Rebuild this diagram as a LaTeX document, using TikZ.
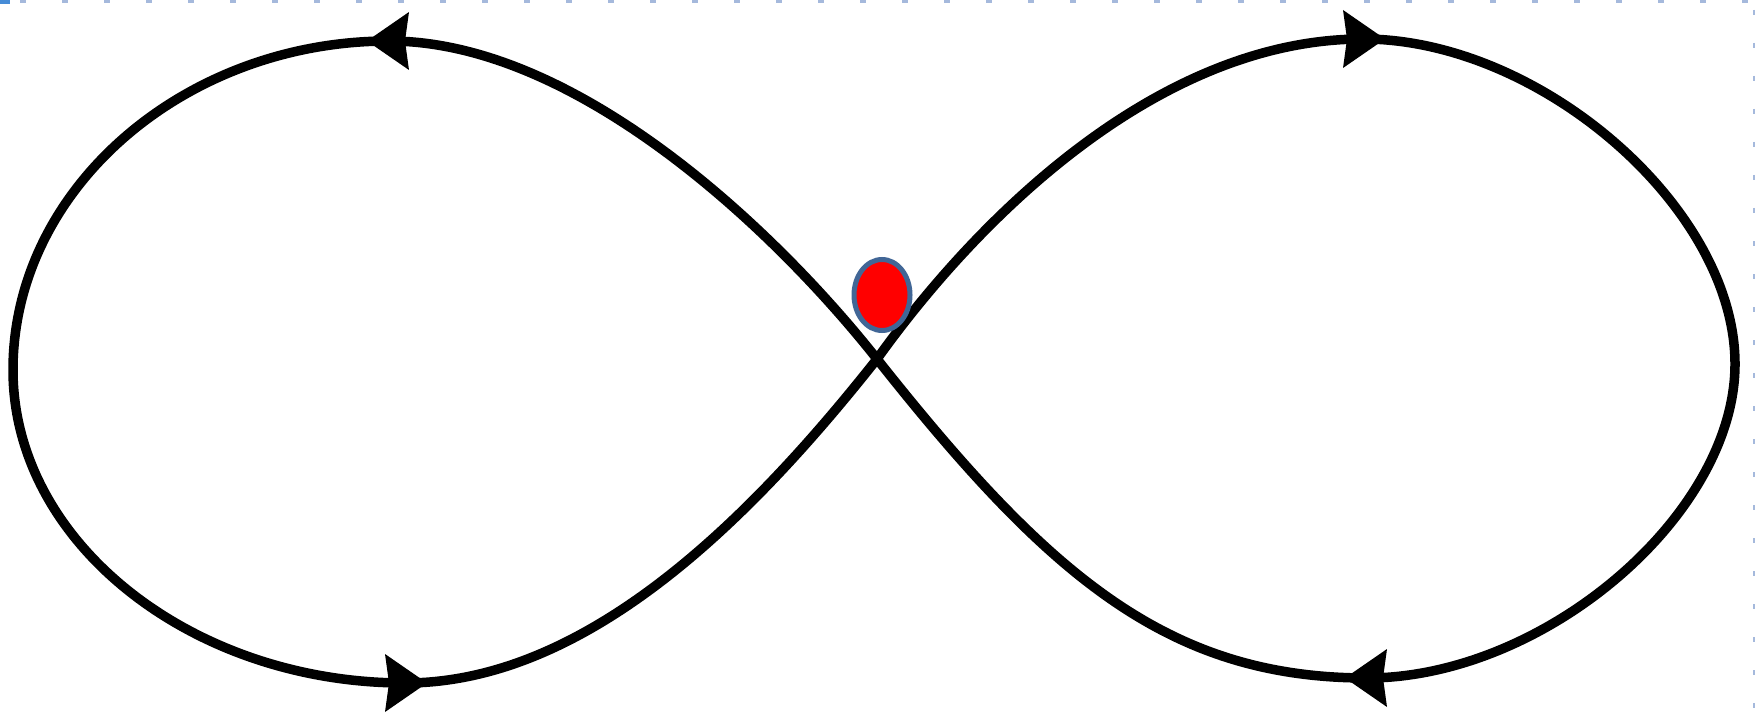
\documentclass[tikz,border=0pt]{standalone}
\usetikzlibrary{shapes.geometric}
\definecolor{dotblue}{RGB}{65,102,150}
\definecolor{edgeblue}{RGB}{165,185,220}
\definecolor{cornerblue}{RGB}{70,140,215}
\begin{document}
\begin{tikzpicture}[x=1pt,y=-1pt,
  curve/.style={line width=9.5pt, black, line join=round},
  arrowtip/.style={fill=black},
  edgedash/.style={edgeblue, line width=2.5pt}]
\useasboundingbox (0,0) rectangle (1758,714);
\fill[white] (0,0) rectangle (1758,714);
% frame artefacts
\draw[edgedash, dash pattern=on 6pt off 36pt] (20,1.5) -- (1758,1.5);
\draw[edgedash, dash pattern=on 5pt off 28pt] (1754,10) -- (1754,714);
\fill[cornerblue] (0,0) rectangle (10,4);
% key points
\coordinate (C) at (877,359);
\coordinate (TL) at (389,41);
\coordinate (L) at (13,370);
\coordinate (BL) at (405,683);
\coordinate (TR) at (1363,39);
\coordinate (R) at (1735,364);
\coordinate (BR) at (1367,678);
% figure eight
\draw[curve] (C) .. controls (779,235) and (579,41) .. (TL)
 .. controls (184,41) and (13,189) .. (L)
 .. controls (13,542) and (191,683) .. (BL)
 .. controls (588,683) and (752,517) .. (C)
 .. controls (980,215) and (1160,39) .. (TR)
 .. controls (1540,39) and (1735,208) .. (R)
 .. controls (1735,515) and (1544,678) .. (BR)
 .. controls (1167,678) and (1048,575) .. cycle;
% arrowheads
\fill[arrowtip] (TL) ++(-22,0) -- ++(42,-29) -- ++(-4,29) -- ++(4,29) -- cycle;
\fill[arrowtip] (BL) ++(22,0) -- ++(-42,-29) -- ++(4,29) -- ++(-4,29) -- cycle;
\fill[arrowtip] (TR) ++(22,0) -- ++(-42,-29) -- ++(4,29) -- ++(-4,29) -- cycle;
\fill[arrowtip] (BR) ++(-22,0) -- ++(42,-29) -- ++(-4,29) -- ++(4,29) -- cycle;
% red dot
\node[ellipse, draw=dotblue, fill=red, line width=5pt, minimum width=56pt, minimum height=71pt, inner sep=0pt] (dot) at (882,295) {};
\end{tikzpicture}
\end{document}
